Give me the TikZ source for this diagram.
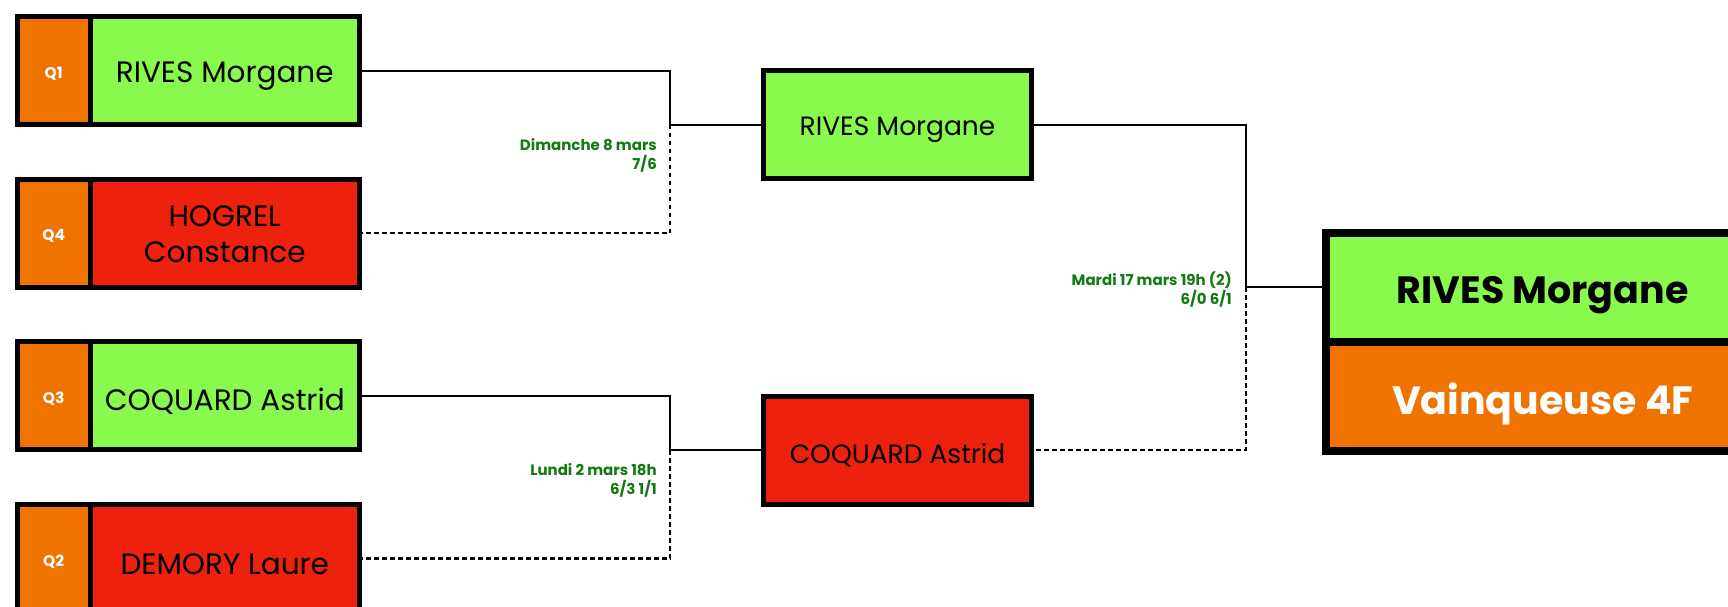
\documentclass[tikz,border=0pt]{standalone}
\usepackage{fontspec}
\setmainfont{Poppins}
\usetikzlibrary{calc}
\definecolor{pgreen}{RGB}{137,249,77}
\definecolor{pred}{RGB}{237,33,14}
\definecolor{porange}{RGB}{240,115,0}
\definecolor{dategreen}{RGB}{18,122,18}
\newcommand\dn[1]{\raisebox{-0.2em}[\height][\depth]{#1}}
\newcommand\dnb[1]{\raisebox{-0.05em}[\height][\depth]{#1}}
\begin{document}
\begin{tikzpicture}[x=1pt,y=-1pt,
  qbox/.style={draw=black,line width=5pt,fill=porange,minimum width=72.5pt,minimum height=108pt,inner sep=0pt,text=white,font=\fontsize{15.5}{17}\selectfont\bfseries},
  namebox/.style={draw=black,line width=5pt,minimum width=269.5pt,minimum height=108pt,inner sep=0pt,align=center,font=\fontsize{29.5}{36}\selectfont},
  midbox/.style={draw=black,line width=5pt,minimum width=268pt,minimum height=108pt,inner sep=0pt,font=\fontsize{26.5}{30}\selectfont},
  finbox/.style={draw=black,line width=8pt,minimum width=434.5pt,minimum height=109.5pt,inner sep=0pt,font=\fontsize{38}{44}\selectfont\bfseries},
  win/.style={fill=pgreen}, lose/.style={fill=pred},
  conn/.style={line width=2pt},
  dconn/.style={line width=2.5pt,dash pattern=on 4.5pt off 3.5pt},
  score/.style={text=dategreen,align=right,inner sep=0pt,anchor=east,font=\fontsize{15}{19}\selectfont\bfseries}
]
\clip (0,0) rectangle (1728,606);
\fill[white] (0,0) rectangle (1728,606);
% first round
\node[qbox] (q1) at (53.75,70.5) {\dn{Q1}};
\node[namebox,win] (p1) at (224.75,70.5) {\dn{RIVES Morgane}};
\node[qbox] (q4) at (53.75,233.2) {\dn{Q4}};
\node[namebox,lose] (p4) at (224.75,233.2) {\dnb{HOGREL}\\\dnb{Constance}};
\node[qbox] (q3) at (53.75,395.8) {\dn{Q3}};
\node[namebox,win] (p3) at (224.75,395.8) {\dn{COQUARD Astrid}};
\node[qbox] (q2) at (53.75,558.5) {\dn{Q2}};
\node[namebox,lose] (p2) at (224.75,558.5) {\dn{DEMORY Laure}};
% second round
\node[midbox,win] (r1) at (897.5,124.5) {\dn{RIVES Morgane}};
\node[midbox,lose] (r2) at (897.5,450) {\dn{COQUARD Astrid}};
% final
\node[finbox,win] (f1) at (1542.75,287.25) {\dn{RIVES Morgane}};
\node[finbox,fill=porange,text=white,minimum height=108.5pt,font=\fontsize{39.5}{44}\selectfont\bfseries] (f2) at (1542.75,396.25) {\dn{Vainqueuse 4F}};
% junctions
\coordinate (j1) at (670,124.5);
\coordinate (j2) at (670,450);
\coordinate (j3) at (1246,287.25);
\draw[conn] (p1.east) -| (j1) -- (r1.west);
\draw[dconn] (j1) |- (p4.east);
\draw[conn] (p3.east) -| (j2) -- (r2.west);
\draw[dconn] (j2) |- (p2.east);
\draw[conn] (r1.east) -| (j3) -- (f1.west);
\draw[dconn] (j3) |- (r2.east);
% scores
\node[score] (s1) at (657,155.5) {Dimanche 8 mars\\7/6};
\node[score] (s2) at (657,480.5) {Lundi 2 mars 18h\\6/3 1/1};
\node[score] (s3) at (1232,290) {Mardi 17 mars 19h (2)\\6/0 6/1};
\end{tikzpicture}
\end{document}
